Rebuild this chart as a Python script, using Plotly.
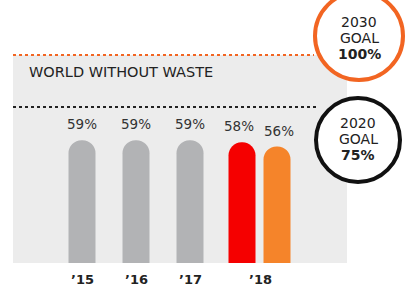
import plotly.graph_objects as go

# ---- data ----
years = ["’15", "’16", "’17", "’18"]
values_gray = [59, 59, 59]
value_2018_red = 58
value_2018_orange = 56
goal_2030 = 100
goal_2020 = 75
title_text = "WORLD WITHOUT WASTE"
goal_2030_lines = ["2030", "GOAL", "<b>100%</b>"]
goal_2020_lines = ["2020", "GOAL", "<b>75%</b>"]

FONT = "DejaVu Sans"
W, H = 406, 289
PX_PER_CAT = 54.0          # pixels per category step
X0_PX = 82.0               # pixel position of first category
ZERO_PX = 263              # pixel y of zero line
PX_PER_PCT = 2.08

def px_to_u(px):
    return (px - X0_PX) / PX_PER_CAT

def py_to_v(py):
    return (ZERO_PX - py) / PX_PER_PCT

cat_pos = [0, 1, 2, px_to_u(260)]
red_pos = px_to_u(242)
orange_pos = px_to_u(277)
bar_w = 27 / PX_PER_CAT

fig = go.Figure()
fig.add_trace(go.Bar(x=cat_pos[:3], y=values_gray, width=bar_w,
                     marker=dict(color="#B2B3B5", line=dict(width=0)),
                     hoverinfo="skip"))
fig.add_trace(go.Bar(x=[red_pos], y=[value_2018_red], width=bar_w,
                     marker=dict(color="#F50000", line=dict(width=0)),
                     hoverinfo="skip"))
fig.add_trace(go.Bar(x=[orange_pos], y=[value_2018_orange], width=bar_w,
                     marker=dict(color="#F5842A", line=dict(width=0)),
                     hoverinfo="skip"))

# value labels
for xv, yv, dx in list(zip(cat_pos[:3], values_gray, [0, 0, 0])) + \
        [(red_pos, value_2018_red, -3), (orange_pos, value_2018_orange, 2)]:
    fig.add_annotation(x=xv, y=yv, text=f"{yv}%", showarrow=False,
                       yshift=16, xshift=dx, xanchor="center", yanchor="middle",
                       font=dict(family=FONT, size=13.5, color="#333333"))

# category labels
for xv, lab in zip(cat_pos, years):
    fig.add_annotation(x=xv, y=py_to_v(279), text=f"<b>{lab}</b>", showarrow=False,
                       xanchor="center", yanchor="middle",
                       font=dict(family=FONT, size=13, color="#222222"))

shapes = []
# gray panel
shapes.append(dict(type="rect", xref="x", yref="y",
                   x0=px_to_u(13), x1=px_to_u(347), y0=0, y1=goal_2030,
                   fillcolor="#ECECEC", line=dict(width=0), layer="below"))
# dotted goal lines
shapes.append(dict(type="line", xref="x", yref="y",
                   x0=px_to_u(13), x1=px_to_u(314), y0=goal_2030, y1=goal_2030,
                   line=dict(color="#F26522", width=2, dash="dot")))
shapes.append(dict(type="line", xref="x", yref="y",
                   x0=px_to_u(13), x1=px_to_u(316), y0=goal_2020, y1=goal_2020,
                   line=dict(color="#222222", width=2, dash="dot")))

def circ(cx, cy, r, color):
    return dict(type="circle", xref="paper", yref="paper",
                x0=(cx - r) / W, x1=(cx + r) / W,
                y0=1 - (cy + r) / H, y1=1 - (cy - r) / H,
                fillcolor="white", line=dict(color=color, width=4))

shapes.append(circ(359, 36, 44, "#F26522"))
shapes.append(circ(358, 140, 42, "#111111"))
fig.update_layout(shapes=shapes)

def goal_text(cx, ys, lines):
    for yy, t in zip(ys, lines):
        fig.add_annotation(xref="paper", yref="paper", x=cx / W, y=1 - yy / H,
                           text=t, showarrow=False, xanchor="center", yanchor="middle",
                           font=dict(family=FONT, size=14, color="#222222"))

goal_text(359, [22, 38, 54], goal_2030_lines)
goal_text(358, [123, 139, 155], goal_2020_lines)

fig.add_annotation(xref="paper", yref="paper", x=27 / W, y=1 - 72 / H,
                   text=title_text, showarrow=False, xanchor="left", yanchor="middle",
                   font=dict(family=FONT, size=14.5, color="#222222"))

fig.update_layout(
    width=W, height=H,
    margin=dict(l=0, r=0, t=0, b=0, pad=0, autoexpand=False),
    paper_bgcolor="white", plot_bgcolor="rgba(0,0,0,0)",
    showlegend=False, barmode="overlay", barcornerradius="50%",
    xaxis=dict(range=[px_to_u(0), px_to_u(W)], visible=False, fixedrange=True),
    yaxis=dict(range=[py_to_v(H), py_to_v(0)], visible=False, fixedrange=True),
)

fig.write_html("out.html",
               config={"displayModeBar": False, "staticPlot": True},
               post_script="document.body.style.margin='0';document.body.style.overflow='hidden';")
